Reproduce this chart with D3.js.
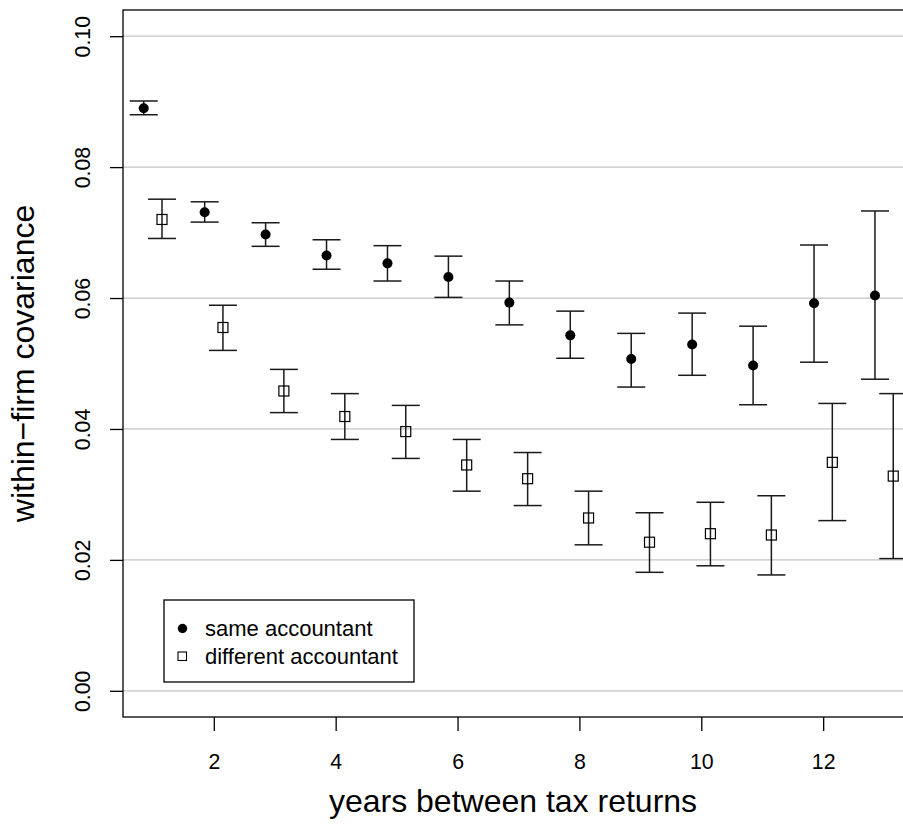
<!DOCTYPE html>
<html>
<head>
<meta charset="utf-8">
<script src="https://cdn.jsdelivr.net/npm/d3@7"></script>
<style>
  html, body { margin: 0; padding: 0; background: #fff; }
  svg { display: block; font-family: "Liberation Sans", Arial, Helvetica, sans-serif; }
</style>
</head>
<body>
<svg id="chart" width="903" height="826"></svg>
<script>
// Years between the two tax returns
const years = [1, 2, 3, 4, 5, 6, 7, 8, 9, 10, 11, 12, 13];

// Same accountant: estimate and interval bounds
const sameMean = [0.0890, 0.0731, 0.0697, 0.0665, 0.0653, 0.0632, 0.0593, 0.0543, 0.0507, 0.0529, 0.0497, 0.0592, 0.0604];
const sameLo   = [0.0880, 0.0716, 0.0679, 0.0644, 0.0626, 0.0601, 0.0559, 0.0508, 0.0464, 0.0482, 0.0437, 0.0502, 0.0476];
const sameHi   = [0.0901, 0.0747, 0.0715, 0.0689, 0.0680, 0.0664, 0.0626, 0.0580, 0.0546, 0.0577, 0.0557, 0.0681, 0.0733];

// Different accountant: estimate and interval bounds
const diffMean = [0.0720, 0.0555, 0.0458, 0.0419, 0.0396, 0.0345, 0.0324, 0.0264, 0.0227, 0.0240, 0.0238, 0.0349, 0.0328];
const diffLo   = [0.0691, 0.0520, 0.0425, 0.0384, 0.0355, 0.0305, 0.0283, 0.0223, 0.0181, 0.0191, 0.0177, 0.0260, 0.0202];
const diffHi   = [0.0751, 0.0589, 0.0491, 0.0454, 0.0436, 0.0384, 0.0364, 0.0305, 0.0272, 0.0288, 0.0298, 0.0439, 0.0454];

const xTicks = [2, 4, 6, 8, 10, 12];
const yTicks = [0.00, 0.02, 0.04, 0.06, 0.08, 0.10];
const legendLabels = ["same accountant", "different accountant"];

const svg = d3.select("#chart");
const plotLeft = 123, plotRight = 903, plotTop = 10, plotBottom = 717;

const x = d3.scaleLinear().domain([0.51, 13.31]).range([plotLeft, plotRight]);
const y = d3.scaleLinear().domain([-0.004, 0.104]).range([plotBottom, plotTop]);

const offset = 0.15;
const capHalf = 14;

// horizontal reference lines
svg.append("g").selectAll("line").data(yTicks).join("line")
  .attr("x1", plotLeft).attr("x2", plotRight + 20)
  .attr("y1", d => y(d)).attr("y2", d => y(d))
  .attr("stroke", "#c4c4c4").attr("stroke-width", 1.3);

// error bars
function errorBars(mean, lo, hi, dx) {
  const g = svg.append("g").attr("stroke", "#1a1a1a").attr("stroke-width", 1.5).attr("fill", "none");
  const rows = years.map((yr, i) => ({ x: yr + dx, lo: lo[i], hi: hi[i] }));
  g.selectAll("line.v").data(rows).join("line").attr("class", "v")
    .attr("x1", d => x(d.x)).attr("x2", d => x(d.x))
    .attr("y1", d => y(d.lo)).attr("y2", d => y(d.hi));
  g.selectAll("line.lo").data(rows).join("line").attr("class", "lo")
    .attr("x1", d => x(d.x) - capHalf).attr("x2", d => x(d.x) + capHalf)
    .attr("y1", d => y(d.lo)).attr("y2", d => y(d.lo));
  g.selectAll("line.hi").data(rows).join("line").attr("class", "hi")
    .attr("x1", d => x(d.x) - capHalf).attr("x2", d => x(d.x) + capHalf)
    .attr("y1", d => y(d.hi)).attr("y2", d => y(d.hi));
}
errorBars(sameMean, sameLo, sameHi, -offset);
errorBars(diffMean, diffLo, diffHi, offset);

// filled circles: same accountant
svg.append("g").selectAll("circle").data(years).join("circle")
  .attr("cx", (d) => x(d - offset)).attr("cy", (d, i) => y(sameMean[i]))
  .attr("r", 5).attr("fill", "#000");

// open squares: different accountant
const sq = 10;
svg.append("g").selectAll("rect").data(years).join("rect")
  .attr("x", (d) => x(d + offset) - sq / 2).attr("y", (d, i) => y(diffMean[i]) - sq / 2)
  .attr("width", sq).attr("height", sq)
  .attr("fill", "none").attr("stroke", "#000").attr("stroke-width", 1.2);

// plot frame (right side runs past the canvas)
svg.append("rect")
  .attr("x", plotLeft).attr("y", plotTop).attr("width", plotRight - plotLeft + 40).attr("height", plotBottom - plotTop)
  .attr("fill", "none").attr("stroke", "#000").attr("stroke-width", 1.3);

// x axis
const xAxis = svg.append("g").attr("transform", `translate(0,${plotBottom})`)
  .call(d3.axisBottom(x).tickValues(xTicks).tickSize(14).tickFormat(d3.format("d")));
xAxis.select(".domain").remove();
xAxis.selectAll(".tick line").attr("stroke", "#000").attr("stroke-width", 1.3);
xAxis.selectAll(".tick text")
  .attr("y", 52).attr("dy", 0).attr("fill", "#000")
  .style("font-size", "21.3px").style("font-family", "'Liberation Sans', Arial, sans-serif");

// y axis
const yAxis = svg.append("g").attr("transform", `translate(${plotLeft},0)`)
  .call(d3.axisLeft(y).tickValues(yTicks).tickSize(13).tickFormat(d3.format(".2f")));
yAxis.select(".domain").remove();
yAxis.selectAll(".tick line").attr("stroke", "#000").attr("stroke-width", 1.3);
yAxis.selectAll(".tick text")
  .attr("transform", "rotate(-90)")
  .attr("x", 0).attr("y", -33).attr("dy", 0).attr("dx", 0)
  .attr("text-anchor", "middle").attr("fill", "#000")
  .style("font-size", "21.3px").style("font-family", "'Liberation Sans', Arial, sans-serif");

// axis titles
svg.append("text")
  .attr("x", (plotLeft + plotRight) / 2).attr("y", 812)
  .attr("text-anchor", "middle").style("font-size", "32px")
  .text("years between tax returns");

svg.append("text")
  .attr("transform", "rotate(-90)")
  .attr("x", -(plotTop + plotBottom) / 2).attr("y", 34)
  .attr("text-anchor", "middle").style("font-size", "32px")
  .text("within\u2212firm covariance");

// legend
const lg = svg.append("g");
lg.append("rect").attr("x", 164).attr("y", 600).attr("width", 250).attr("height", 82)
  .attr("fill", "#fff").attr("stroke", "#000").attr("stroke-width", 1.3);
lg.append("circle").attr("cx", 182.5).attr("cy", 628.5).attr("r", 4.7).attr("fill", "#000");
lg.append("rect").attr("x", 178).attr("y", 652).attr("width", 8.5).attr("height", 8.5)
  .attr("fill", "none").attr("stroke", "#000").attr("stroke-width", 1.1);
lg.selectAll("text").data(legendLabels).join("text")
  .attr("x", 205).attr("y", (d, i) => 636 + i * 27.5)
  .style("font-size", "22px")
  .text(d => d);
</script>
</body>
</html>
